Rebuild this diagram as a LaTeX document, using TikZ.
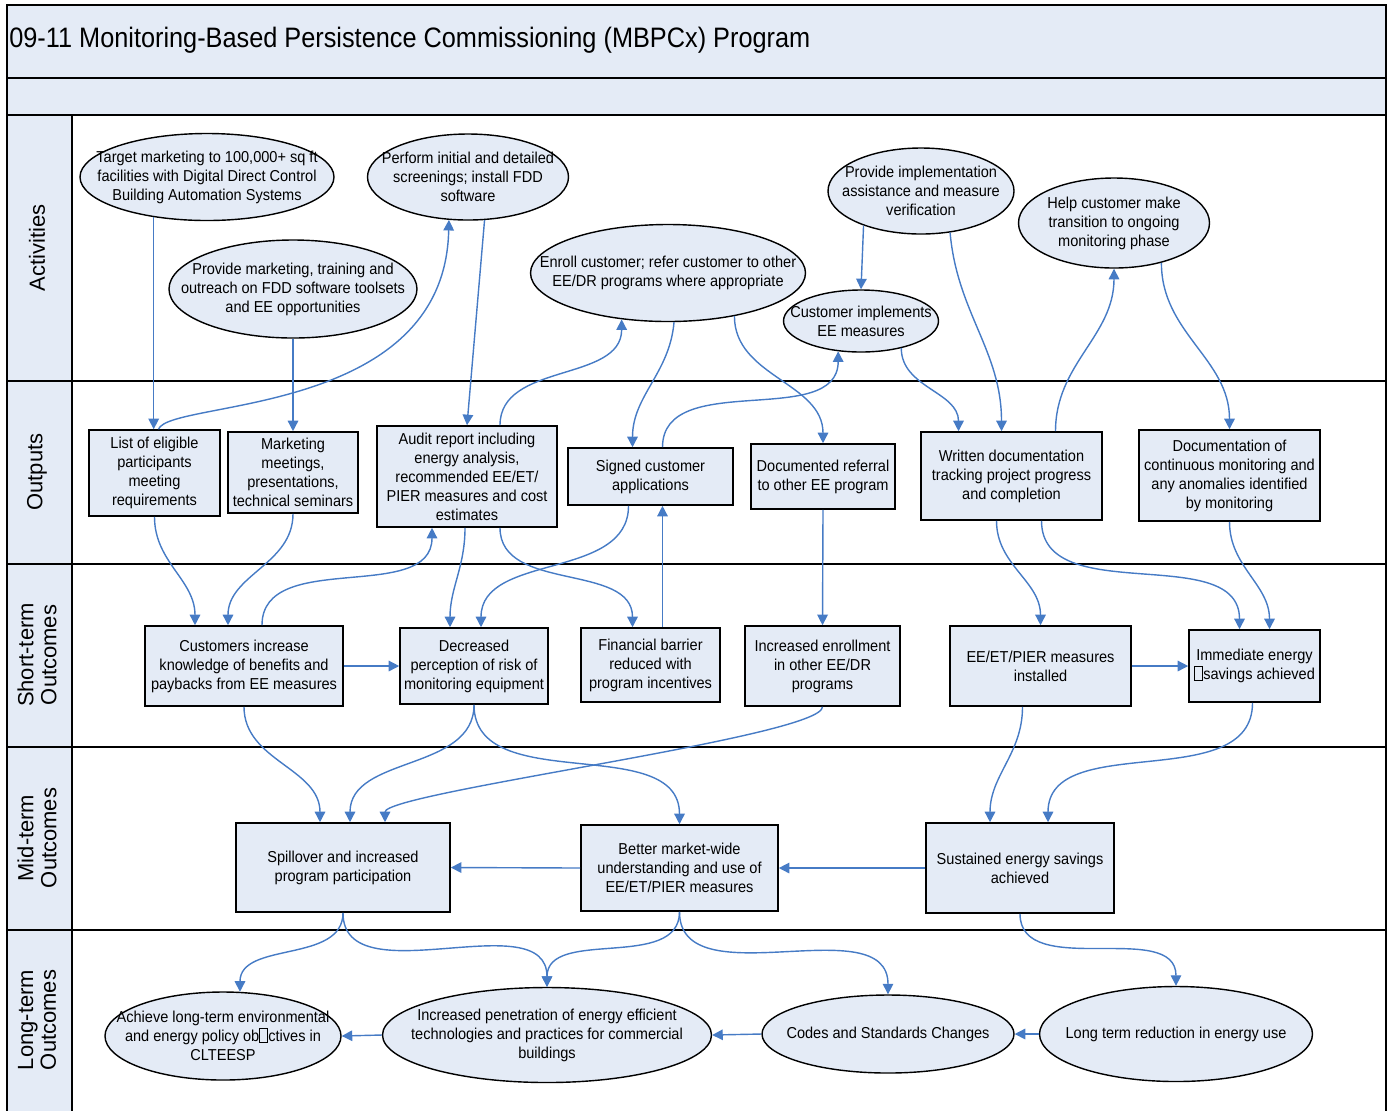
\documentclass[tikz,border=0pt]{standalone}
\usepackage{fontspec}
\setmainfont{Liberation Sans}[FakeStretch=0.92]
\newfontfamily\lanefont{Liberation Sans}
\newfontfamily\titlefont{Liberation Sans}[FakeStretch=0.9]
\usetikzlibrary{arrows.meta,shapes.geometric,calc}

\definecolor{paleblue}{RGB}{228,235,246}
\definecolor{linkblue}{RGB}{70,123,197}

% пустой квадратик на месте пропавшей буквы
\newcommand{\boxglyph}{{\fboxsep=0pt\fboxrule=0.6pt\fbox{\rule{0pt}{7pt}\hspace{4pt}}}}

\tikzset{
    dims/.style 2 args = { minimum width = #1*0.02cm, minimum height = #2*0.02cm },
    activity/.style = { ellipse, draw, line width = 0.8pt, fill = paleblue, inner sep = 0pt },
    acttext/.style = { align = center, inner sep = 0pt, font = \fontsize{9}{10.8}\selectfont },
    result/.style = { rectangle, draw, line width = 0.9pt, fill = paleblue, align = center, inner sep = 2pt, font = \fontsize{9}{10.8}\selectfont },
    link/.style = { draw = linkblue, line width = 0.8pt, -{Triangle[length = 6pt, width = 6pt]} },
    lanetitle/.style = { rotate = 90, align = center, inner sep = 0pt, font = {\lanefont\fontsize{12.5}{13}\selectfont} }
}

\begin{document}
\begin{tikzpicture}[x = 0.02cm, y = 0.02cm]
    \useasboundingbox ( 0, 0 ) rectangle ( 1391, -1110 );

    % рамка и полосы
    \fill [paleblue] ( 7, -5 ) rectangle ( 1386, -115 );
    \fill [paleblue] ( 7, -115 ) rectangle ( 72, -1120 );
    \draw [line width = 1pt] ( 7, -1120 ) -- ( 7, -5 ) -- ( 1386, -5 ) -- ( 1386, -1120 );
    \foreach \y in { 78, 115, 381, 564, 747, 930 }
        \draw [line width = 1pt] ( 7, -\y ) -- ( 1386, -\y );
    \draw [line width = 1pt] ( 72, -115 ) -- ( 72, -1120 );

    % заголовок
    \node [anchor = west, inner sep = 0pt, font = {\titlefont\fontsize{16}{18}\selectfont}] (title) at ( 9, -40 )
        {09-11 Monitoring-Based Persistence Commissioning (MBPCx) Program};

    % подписи полос
    \node [lanetitle] (lane1) at ( 37, -248 ) {Activities};
    \node [lanetitle] (lane2) at ( 37, -472 ) {Outputs};
    \node [lanetitle] (lane3) at ( 37, -655 ) {Short-term\\Outcomes};
    \node [lanetitle] (lane4) at ( 37, -838 ) {Mid-term\\Outcomes};
    \node [lanetitle] (lane5) at ( 37, -1020 ) {Long-term\\Outcomes};

    % мероприятия
    \node [activity, dims = {254}{87}, label = {[acttext]center:{Target marketing to 100,000+ sq ft\\facilities with Digital Direct Control\\Building Automation Systems}}] (a1) at ( 207, -177 ) {};
    \node [activity, dims = {201}{86}, label = {[acttext]center:{Perform initial and detailed\\screenings; install FDD\\software}}] (a2) at ( 468, -177 ) {};
    \node [activity, dims = {248}{98}, label = {[acttext]center:{Provide marketing, training and\\outreach on FDD software toolsets\\and EE opportunities}}] (a3) at ( 293, -289 ) {};
    \node [activity, dims = {275}{97}, label = {[acttext]center:{Enroll customer; refer customer to other\\EE/DR programs where appropriate}}] (a4) at ( 668, -273 ) {};
    \node [activity, dims = {186}{86}, label = {[acttext]center:{Provide implementation\\assistance and measure\\verification}}] (a5) at ( 921, -191 ) {};
    \node [activity, dims = {191}{90}, label = {[acttext]center:{Help customer make\\transition to ongoing\\monitoring phase}}] (a6) at ( 1114, -223 ) {};
    \node [activity, dims = {155}{62}, label = {[acttext]center:{Customer implements\\EE measures}}] (a7) at ( 861, -321 ) {};

    % результаты
    \node [result, dims = {131}{86}] (o1) at ( 154.5, -473 ) {List of eligible\\participants\\meeting\\requirements};
    \node [result, dims = {130}{81}] (o2) at ( 293, -472.5 ) {Marketing\\meetings,\\presentations,\\technical seminars};
    \node [result, dims = {180}{101}] (o3) at ( 467, -476.5 ) {Audit report including\\energy analysis,\\recommended EE/ET/\\PIER measures and cost\\estimates};
    \node [result, dims = {165}{57}] (o4) at ( 650.5, -476.5 ) {Signed customer\\applications};
    \node [result, dims = {144}{65}] (o5) at ( 823, -476.5 ) {Documented referral\\to other EE program};
    \node [result, dims = {181}{88}] (o6) at ( 1011.5, -476 ) {Written documentation\\tracking project progress\\and completion};
    \node [result, dims = {181}{91}] (o7) at ( 1229.5, -475.5 ) {Documentation of\\continuous monitoring and\\any anomalies identified\\by monitoring};

    % краткосрочные итоги
    \node [result, dims = {198}{80}] (s1) at ( 244, -666 ) {Customers increase\\knowledge of benefits and\\paybacks from EE measures};
    \node [result, dims = {148}{76}] (s2) at ( 474, -666 ) {Decreased\\perception of risk of\\monitoring equipment};
    \node [result, dims = {139}{74}] (s3) at ( 650.5, -665 ) {Financial barrier\\reduced with\\program incentives};
    \node [result, dims = {155}{80}] (s4) at ( 822.5, -666 ) {Increased enrollment\\in other EE/DR\\programs};
    \node [result, dims = {181}{80}] (s5) at ( 1040.5, -666 ) {EE/ET/PIER measures\\installed};
    \node [result, dims = {131}{72}] (s6) at ( 1254.5, -666 ) {Immediate energy\\\boxglyph savings achieved};

    % среднесрочные итоги
    \node [result, dims = {214}{89}] (m1) at ( 343, -867.5 ) {Spillover and increased\\program participation};
    \node [result, dims = {197}{86}] (m2) at ( 679.5, -868 ) {Better market-wide\\understanding and use of\\EE/ET/PIER measures};
    \node [result, dims = {188}{90}] (m3) at ( 1020, -868 ) {Sustained energy savings\\achieved};

    % долгосрочные итоги
    \node [activity, dims = {236}{88}, label = {[acttext]center:{Achieve long-term environmental\\and energy policy ob\boxglyph ctives in\\CLTEESP}}] (l1) at ( 223, -1036 ) {};
    \node [activity, dims = {329}{95}, label = {[acttext]center:{Increased penetration of energy efficient\\technologies and practices for commercial\\buildings}}] (l2) at ( 547, -1035 ) {};
    \node [activity, dims = {252}{78}, label = {[acttext]center:{Codes and Standards Changes}}] (l3) at ( 888, -1034 ) {};
    \node [activity, dims = {273}{95}, label = {[acttext]center:{Long term reduction in energy use}}] (l4) at ( 1176, -1034 ) {};

    % связи: мероприятия и результаты
    \draw [link] (a1.217) -- (a1.217 |- o1.north);
    \draw [link] ($(o1.north)+(4,0)$) .. controls ($(o1.north)+(15,30)$) and ($(a2.246)+(-4,-198)$) .. (a2.246);
    \draw [link] (a3.south) -- (o2.north);
    \draw [link] (a2.291) -- (o3.north);
    \draw [link] ($(o3.north)+(33,0)$) to [out = 90, in = -90] (a4.225);
    \draw [link] (a4.277) to [out = -95, in = 90] ($(o4.north)+(-18,0)$);
    \draw [link] (a4.327) to [out = -90, in = 90] (o5.north);
    \draw [link] ($(o4.north)+(12,0)$) to [out = 90, in = -90] (a7.233);
    \draw [link] (a5.211) -- (a7.north);
    \draw [link] (a7.326) to [out = -90, in = 90] ($(o6.north)+(-53,0)$);
    \draw [link] (a5.305) to [out = -85, in = 90] ($(o6.north)+(-10,0)$);
    \draw [link] ($(o6.north)+(44,0)$) to [out = 90, in = -90] (a6.south);
    \draw [link] (a6.320) to [out = -90, in = 90] (o7.north);

    % связи: результаты и краткосрочные итоги
    \draw [link] (o1.south) to [out = -90, in = 90] ($(s1.north)+(-49,0)$);
    \draw [link] (o2.south) to [out = -90, in = 90] ($(s1.north)+(-16,0)$);
    \draw [link] ($(s1.north)+(18,0)$) to [out = 90, in = -90] ($(o3.south)+(-35,0)$);
    \draw [link] ($(o3.south)+(-2,0)$) to [out = -90, in = 90] ($(s2.north)+(-24,0)$);
    \draw [link] ($(o3.south)+(33,0)$) to [out = -90, in = 90] ($(s3.north)+(-18,0)$);
    \draw [link] ($(o4.south)+(-22,0)$) to [out = -90, in = 90] ($(s2.north)+(7,0)$);
    \draw [link] ($(s3.north)+(12,0)$) -- ($(o4.south)+(12,0)$);
    \draw [link] (o5.south) -- (s4.north);
    \draw [link] ($(o6.south)+(-15,0)$) to [out = -90, in = 90] (s5.north);
    \draw [link] ($(o6.south)+(30,0)$) to [out = -90, in = 90] ($(s6.north)+(-15,0)$);
    \draw [link] (o7.south) to [out = -90, in = 90] ($(s6.north)+(15,0)$);
    \draw [link] (s1.east) -- (s2.west);
    \draw [link] (s5.east) -- (s6.west);

    % связи: краткосрочные и среднесрочные итоги
    \draw [link] (s1.south) to [out = -90, in = 90] ($(m1.north)+(-23,0)$);
    \draw [link] (s2.south) to [out = -90, in = 90] ($(m1.north)+(7,0)$);
    \draw [link] (s4.south) .. controls ($(s4.south)+(0,-30)$) and ($(m1.north)+(42,30)$) .. ($(m1.north)+(42,0)$);
    \draw [link] (s2.south) to [out = -90, in = 90] (m2.north);
    \draw [link] ($(s5.south)+(-18,0)$) to [out = -90, in = 90] ($(m3.north)+(-30,0)$);
    \draw [link] ($(s6.south)+(-2,0)$) to [out = -90, in = 90] ($(m3.north)+(28,0)$);
    \draw [link] (m3.west) -- (m2.east);
    \draw [link] (m2.west) -- (m1.east);

    % связи: среднесрочные и долгосрочные итоги
    \draw [link] (m1.south) to [out = -90, in = 90] (l1.69);
    \draw [link] (m1.south) to [out = -90, in = 90] (l2.north);
    \draw [link] (m2.south) to [out = -90, in = 90] (l2.north);
    \draw [link] (m2.south) to [out = -90, in = 90] (l3.north);
    \draw [link] (m3.south) to [out = -90, in = 90] (l4.north);
    \draw [link] (l4.west) -- (l3.east);
    \draw [link] (l3.west) -- (l2.east);
    \draw [link] (l2.west) -- (l1.east);
\end{tikzpicture}
\end{document}
